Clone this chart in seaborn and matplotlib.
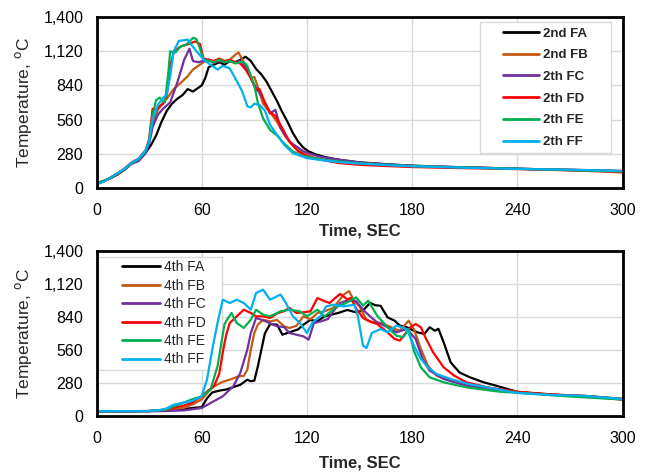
import pandas as pd
import matplotlib
matplotlib.use("Agg")
import matplotlib.pyplot as plt
from matplotlib.patches import Rectangle
import seaborn as sns

# ---- 2nd-round test (top panel) ----
t2_fa = [0, 4, 8, 12, 16, 20, 24, 28, 31, 34, 37, 40, 43, 46, 49, 52, 55, 58, 60, 62, 64, 67, 70, 73, 76, 79, 82, 85,
         88, 91, 94, 97, 100, 103, 106, 109, 112, 115, 118, 121, 125, 130, 135, 140, 150, 165, 180, 200, 220, 240,
         260, 280, 300]
T2_fa = [40, 55, 80, 110, 150, 200, 230, 290, 350, 430, 540, 630, 690, 730, 760, 810, 790, 820, 840, 900, 990, 1010,
         1030, 1010, 1040, 1030, 1050, 1075, 1040, 975, 930, 870, 790, 710, 620, 540, 450, 380, 330, 300, 275, 255, 240,
         228, 210, 195, 183, 173, 166, 158, 152, 146, 138]
t2_fb = [0, 4, 8, 12, 16, 20, 24, 28, 30, 32, 35, 38, 40, 44, 48, 52, 55, 58, 61, 64, 67, 70, 73, 76, 79, 81, 84, 86,
         88, 90, 92, 95, 99, 103, 107, 110, 113, 117, 120, 125, 130, 140, 150, 165, 180, 200, 220, 240, 260, 280, 300]
T2_fb = [40, 52, 85, 115, 155, 205, 235, 300, 380, 520, 640, 700, 730, 810, 860, 915, 970, 1000, 1030, 1050, 1030,
         1040, 1030, 1050, 1090, 1110, 1030, 960, 900, 910, 830, 690, 620, 540, 440, 380, 330, 290, 270, 245, 232, 215,
         200, 190, 180, 172, 165, 157, 152, 146, 140]
t2_fc = [0, 4, 8, 12, 16, 20, 24, 28, 30, 32, 35, 38, 42, 46, 50, 53, 55, 58, 61, 64, 67, 70, 73, 76, 79, 82, 86, 89,
         92, 95, 99, 102, 105, 108, 111, 115, 118, 122, 127, 132, 139, 150, 165, 180, 200, 220, 240, 260, 280, 300]
T2_fc = [40, 58, 85, 120, 150, 200, 220, 285, 360, 500, 600, 650, 700, 860, 1050, 1140, 1040, 1030, 1040, 1050, 1020,
         1050, 1030, 1040, 1030, 1040, 970, 870, 800, 730, 610, 640, 490, 420, 370, 330, 300, 280, 258, 245, 230, 210,
         195, 182, 174, 166, 158, 150, 145, 137]
t2_fd = [0, 4, 8, 12, 16, 20, 24, 28, 30, 32, 34, 36, 38, 40, 42, 44, 47, 50, 53, 56, 59, 61, 64, 67, 70, 73, 76, 79,
         82, 85, 88, 91, 93, 96, 99, 102, 106, 110, 115, 121, 128, 138, 150, 165, 180, 200, 220, 240, 260, 280, 300]
T2_fd = [40, 55, 82, 118, 160, 210, 240, 310, 400, 650, 640, 670, 690, 750, 1000, 1110, 1150, 1170, 1180, 1200, 1180,
         1060, 1050, 1040, 1060, 1040, 1050, 1030, 1020, 970, 900, 800, 810, 700, 620, 590, 490, 380, 300, 255, 232,
         205, 190, 180, 172, 165, 160, 155, 148, 140, 128]
t2_fe = [0, 4, 8, 12, 16, 20, 24, 28, 30, 32, 34, 36, 39, 41, 42, 45, 48, 51, 53, 55, 57, 59, 61, 64, 67, 70, 73, 76,
         79, 82, 84, 86, 88, 90, 92, 95, 99, 103, 107, 112, 117, 122, 130, 140, 150, 165, 180, 200, 220, 240, 260, 280,
         300]
T2_fe = [40, 56, 84, 120, 155, 205, 235, 300, 390, 600, 720, 740, 700, 950, 1120, 1110, 1160, 1170, 1200, 1230, 1220,
         1140, 1050, 1040, 1030, 1050, 1030, 1040, 1020, 1030, 1030, 1000, 920, 840, 700, 570, 475, 430, 365, 300, 265,
         250, 230, 215, 203, 190, 180, 172, 164, 157, 150, 142, 135]
t2_ff = [0, 4, 8, 12, 16, 20, 24, 28, 30, 32, 35, 38, 40, 42, 44, 47, 50, 52, 54, 57, 60, 62, 65, 69, 72, 76, 80, 83,
         86, 88, 90, 93, 96, 99, 103, 107, 112, 120, 130, 140, 150, 165, 180, 200, 220, 240, 260, 280, 300]
T2_ff = [30, 50, 85, 120, 158, 205, 240, 310, 380, 560, 680, 740, 760, 915, 1120, 1205, 1210, 1215, 1175, 1120, 1070,
         1040, 1010, 970, 1000, 980, 875, 795, 670, 660, 690, 680, 635, 515, 435, 355, 285, 245, 225, 210, 200, 188,
         178, 170, 163, 157, 152, 147, 140]

# ---- 4th-round test (bottom panel) ----
t4_fa = [0, 20, 30, 40, 50, 56, 60, 63, 66, 70, 74, 78, 82, 86, 88, 90, 92, 94, 96, 99, 103, 106, 109, 112, 115, 118,
         122, 126, 130, 134, 138, 143, 148, 152, 156, 159, 162, 166, 170, 173, 177, 183, 187, 190, 193, 195, 198, 202,
         207, 213, 221, 228, 240, 255, 270, 285, 300]
T4_fa = [40, 40, 42, 48, 60, 70, 75, 150, 200, 215, 225, 245, 265, 308, 295, 300, 420, 560, 700, 780, 775, 690, 705,
         720, 735, 775, 815, 805, 845, 860, 875, 900, 880, 895, 960, 940, 935, 837, 809, 767, 753, 710, 696, 753, 724,
         740, 625, 455, 370, 328, 285, 257, 205, 185, 172, 162, 145]
t4_fb = [0, 30, 40, 50, 55, 60, 64, 67, 72, 76, 81, 84, 86, 88, 90, 92, 95, 99, 103, 107, 110, 114, 118, 122, 126, 130,
         135, 141, 144, 147, 150, 154, 158, 162, 166, 170, 173, 178, 181, 185, 189, 194, 202, 215, 240, 260, 280, 300]
T4_fb = [40, 42, 50, 70, 100, 140, 210, 252, 290, 308, 337, 340, 393, 563, 704, 775, 817, 803, 815, 761, 747, 765, 846,
         820, 874, 888, 917, 1030, 1060, 975, 930, 817, 795, 790, 767, 740, 724, 809, 738, 569, 427, 342, 300, 257, 205,
         182, 170, 145]
t4_fc = [0, 30, 40, 50, 60, 65, 72, 78, 82, 86, 88, 91, 94, 97, 103, 107, 110, 114, 118, 121, 124, 128, 132, 135, 139,
         143, 148, 152, 156, 160, 163, 166, 171, 177, 182, 186, 190, 198, 211, 240, 260, 280, 300]
T4_fc = [40, 40, 42, 48, 68, 110, 167, 252, 365, 563, 704, 832, 817, 800, 761, 755, 704, 690, 676, 648, 789, 803, 823,
         888, 959, 980, 975, 902, 846, 795, 775, 753, 710, 738, 654, 484, 385, 314, 257, 202, 180, 168, 142]
t4_fd = [0, 30, 40, 50, 54, 60, 64, 67, 70, 72, 74, 76, 80, 84, 88, 91, 95, 99, 103, 107, 110, 114, 118, 122, 126, 130,
         133, 136, 139, 143, 145, 148, 152, 156, 160, 166, 170, 173, 179, 182, 185, 188, 192, 198, 204, 211, 223, 240,
         260, 280, 300]
T4_fd = [40, 42, 55, 90, 110, 167, 220, 252, 360, 540, 690, 789, 846, 902, 874, 846, 846, 832, 870, 890, 917, 874, 880,
         888, 1001, 975, 959, 1000, 1036, 990, 1001, 915, 832, 800, 781, 710, 654, 640, 753, 781, 753, 654, 540, 413,
         342, 286, 243, 205, 183, 168, 138]
t4_fe = [0, 30, 40, 44, 50, 54, 60, 65, 69, 71, 73, 75, 77, 80, 84, 88, 91, 95, 99, 105, 110, 116, 120, 126, 130, 134,
         137, 141, 145, 148, 152, 155, 160, 166, 171, 175, 178, 181, 185, 190, 198, 211, 230, 240, 268, 300]
T4_fe = [40, 42, 55, 82, 115, 139, 167, 223, 421, 600, 780, 830, 874, 789, 747, 817, 902, 860, 846, 888, 902, 888, 846,
         902, 846, 890, 930, 950, 979, 1007, 937, 979, 852, 753, 682, 668, 738, 554, 413, 328, 286, 243, 206, 198, 167,
         140]
t4_ff = [0, 30, 36, 40, 44, 50, 54, 60, 63, 66, 69, 72, 76, 80, 84, 88, 91, 95, 99, 105, 108, 112, 116, 120, 123, 128,
         131, 135, 141, 143, 147, 149, 152, 154, 157, 162, 166, 171, 177, 181, 185, 189, 194, 202, 212, 223, 240, 261,
         278, 300]
T4_ff = [40, 42, 50, 65, 96, 115, 124, 167, 308, 562, 789, 987, 959, 987, 959, 902, 1044, 1072, 987, 1030, 959, 846,
         790, 704, 790, 852, 930, 944, 930, 935, 944, 852, 597, 577, 704, 738, 710, 767, 738, 597, 484, 413, 356, 314,
         272, 243, 195, 178, 172, 144]

labels_2 = ["2nd FA", "2nd FB", "2th FC", "2th FD", "2th FE", "2th FF"]
labels_4 = ["4th FA", "4th FB", "4th FC", "4th FD", "4th FE", "4th FF"]
colors = ["#000000", "#C55A11", "#7030A0", "#FF0000", "#00B050", "#00B0F0"]

x_ticks = [0, 60, 120, 180, 240, 300]
y_ticks = [0, 280, 560, 840, 1120, 1400]
y_tick_labels = ["0", "280", "560", "840", "1,120", "1,400"]


def long_frame(times, temps, labels):
    parts = []
    for t, v, name in zip(times, temps, labels):
        parts.append(pd.DataFrame({"time": t, "temp": v, "series": name}))
    return pd.concat(parts, ignore_index=True)


df2 = long_frame([t2_fa, t2_fb, t2_fc, t2_fd, t2_fe, t2_ff],
                 [T2_fa, T2_fb, T2_fc, T2_fd, T2_fe, T2_ff], labels_2)
df4 = long_frame([t4_fa, t4_fb, t4_fc, t4_fd, t4_fe, t4_ff],
                 [T4_fa, T4_fb, T4_fc, T4_fd, T4_fe, T4_ff], labels_4)

sns.set_style("white")
plt.rcParams["font.family"] = ["Liberation Sans", "DejaVu Sans"]

fig = plt.figure(figsize=(6.53, 4.73), dpi=100)
ax_top = fig.add_axes([0.1478, 0.6025, 0.8055, 0.3615])
ax_bot = fig.add_axes([0.1478, 0.1205, 0.8055, 0.3488])


def style_axis(ax, df, labels, box, legend_anchor, legend_font, spacing, xlabelpad):
    sns.lineplot(data=df, x="time", y="temp", hue="series", hue_order=labels,
                 palette=dict(zip(labels, colors)), estimator=None, sort=False,
                 linewidth=1.6, ax=ax, zorder=3)
    ax.set_xlim(0, 300)
    ax.set_ylim(0, 1400)
    ax.set_xticks(x_ticks)
    ax.set_yticks(y_ticks)
    ax.set_yticklabels(y_tick_labels)
    ax.grid(True, color="#d9d9d9", linewidth=1.0, zorder=0)
    ax.set_axisbelow(True)
    for sp in ax.spines.values():
        sp.set_color("black")
        sp.set_linewidth(2.0)
        sp.set_zorder(6)
    ax.tick_params(direction="in", length=4, width=1.5, labelsize=11.5, colors="black")
    ax.tick_params(axis="x", pad=10.5)
    ax.tick_params(axis="y", pad=9.5)
    ax.set_xlabel("Time, SEC", fontsize=12, fontweight="bold", labelpad=xlabelpad,
                  family=["Liberation Sans Narrow", "Liberation Sans"])
    ax.set_ylabel("Temperature, $^{\\mathrm{o}}$C", fontsize=12.5, labelpad=7)
    # legend frame drawn as an opaque box beneath the curves
    ax.add_patch(Rectangle(box[:2], box[2], box[3], transform=ax.transAxes,
                           facecolor="white", edgecolor="#d9d9d9", linewidth=1.0,
                           zorder=1.5, clip_on=False))
    handles, labs = ax.get_legend_handles_labels()
    leg = ax.legend(handles, labs, frameon=False, loc="upper left",
                    bbox_to_anchor=legend_anchor, borderpad=0, borderaxespad=0,
                    handlelength=2.75, handletextpad=0.3, labelspacing=spacing,
                    prop=legend_font)
    for line in leg.get_lines():
        line.set_linewidth(2.0)


style_axis(ax_top, df2, labels_2, (0.729, 0.205, 0.249, 0.766), (0.773, 0.94),
           {"size": 9.5, "weight": "bold"}, 0.72, 4)
style_axis(ax_bot, df4, labels_4, (0.003, 0.279, 0.236, 0.685), (0.048, 0.944),
           {"size": 10}, 0.32, 7)

fig.savefig("out.png", dpi=100)
